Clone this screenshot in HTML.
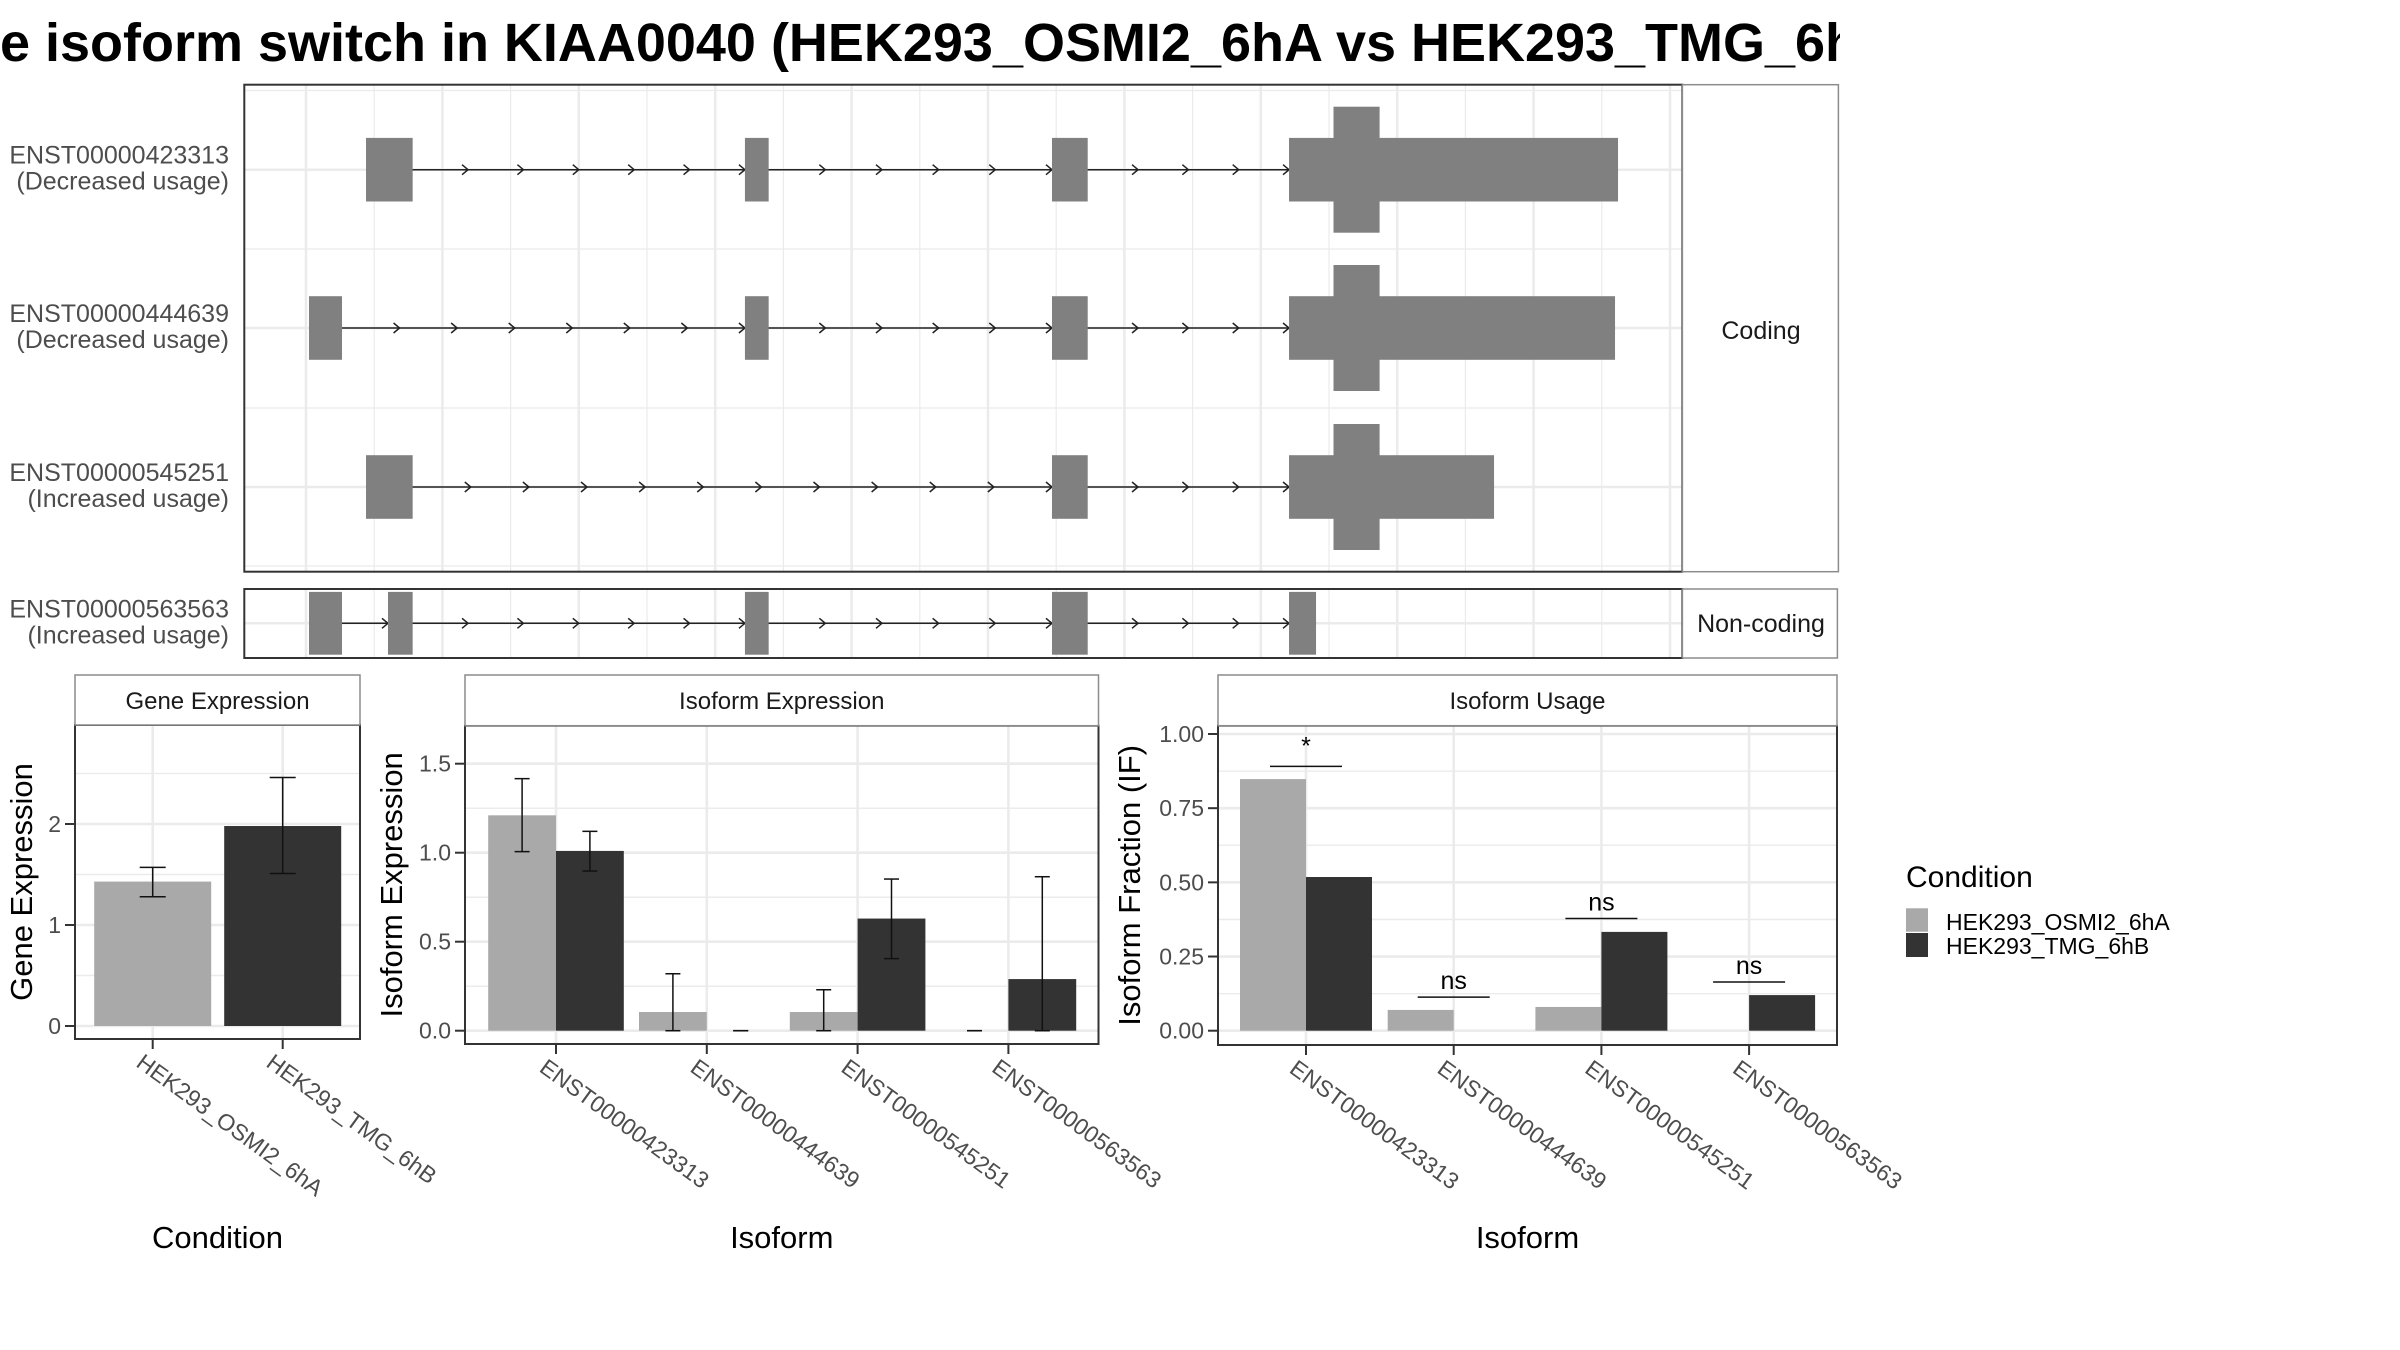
<!DOCTYPE html>
<html><head><meta charset="utf-8"><style>
html,body{margin:0;padding:0;background:#fff;}
svg{display:block;font-family:"Liberation Sans",Arial,sans-serif;}
</style></head><body>
<svg id="chart" xmlns="http://www.w3.org/2000/svg" width="2400" height="1350" viewBox="0 0 2400 1350">
<defs><clipPath id="titleClip"><rect x="0" y="0" width="1840" height="80"/></clipPath></defs>
<rect x="0" y="0" width="2400" height="1350" fill="#fff"/>
<text x="0" y="61" font-size="54" font-weight="bold" clip-path="url(#titleClip)" textLength="1858" lengthAdjust="spacingAndGlyphs">e isoform switch in KIAA0040 (HEK293_OSMI2_6hA vs HEK293_TMG_6h</text>
<g id="g"></g>
</svg>
<script>
// ---- gene structure data (kb units) ----
const txNames = ["ENST00000423313","ENST00000444639","ENST00000545251","ENST00000563563"];
const txUsage = ["(Decreased usage)","(Decreased usage)","(Increased usage)","(Increased usage)"];
const txExons = [
  [[0.44,0.782],[3.218,3.392],[5.469,5.731],[7.207,9.619]],
  [[0.022,0.264],[3.218,3.392],[5.469,5.731],[7.207,9.597]],
  [[0.44,0.782],[5.469,5.731],[7.207,8.710]],
  [[0.022,0.264],[0.601,0.782],[3.218,3.392],[5.469,5.731],[7.207,7.405]]
];
const txCDS = [[7.533,7.871],[7.533,7.871],[7.533,7.871],null];
// ---- bar chart data ----
const conditions = ["HEK293_OSMI2_6hA","HEK293_TMG_6hB"];
const geneExp = [1.43,1.98];
const geneLo = [1.28,1.51];
const geneHi = [1.57,2.46];
const geneTicks = ["0","1","2"];
const isoforms = ["ENST00000423313","ENST00000444639","ENST00000545251","ENST00000563563"];
const isoExpA = [1.21,0.105,0.105,0];
const isoExpB = [1.01,0,0.63,0.29];
const isoLoA = [1.006,0,0,0];
const isoHiA = [1.416,0.32,0.23,0];
const isoLoB = [0.897,0,0.405,0];
const isoHiB = [1.12,0,0.852,0.865];
const isoTicks = ["0.0","0.5","1.0","1.5"];
const ifA = [0.848,0.07,0.08,0];
const ifB = [0.518,0,0.333,0.12];
const sigLabel = ["*","ns","ns","ns"];
const sigY = [0.891,0.113,0.378,0.164];
const ifTicks = ["0.00","0.25","0.50","0.75","1.00"];

const NS="http://www.w3.org/2000/svg";
const root=document.getElementById('g');
function mk(tag,attrs,name,parent){
  const el=document.createElementNS(NS,tag);
  for(const k in attrs) el.setAttribute(k,attrs[k]);
  
  
  (parent||root).appendChild(el);
  return el;
}
function txt(x,y,s,attrs,name){const t=mk('text',Object.assign({x:x,y:y},attrs||{}),name);t.textContent=s;return t;}
const LIGHT="#a9a9a9",DARK="#333333",GRID="#ebebeb",AX="#4d4d4d";

// ---- gene structure panel ----
const gx = g => 306 + g*136.4;
const rowY = [169.7,328,487,623.3];
function panelGrid(top,bottom,name){
  for(let k=-1;k<=11;k++){
    const x=gx(k); if(x<245||x>1681) continue;
    mk('line',{x1:x,x2:x,y1:top,y2:bottom,stroke:GRID,'stroke-width':2.5},name+'-vgrid');
    if(k<11){const xm=gx(k+0.5); if(xm<1681) mk('line',{x1:xm,x2:xm,y1:top,y2:bottom,stroke:GRID,'stroke-width':1.2},name+'-vgrid-minor');}
  }
}
mk('rect',{x:244.3,y:84.7,width:1438,height:487,fill:'#fff'},'coding-panel-bg');
panelGrid(84.7,571.7,'coding');
[90.5,249,408,566].forEach(y=>mk('line',{x1:244.3,x2:1682.4,y1:y,y2:y,stroke:GRID,'stroke-width':1.2},'coding-hgrid-minor'));
mk('rect',{x:244.3,y:589,width:1438,height:69,fill:'#fff'},'noncoding-panel-bg');
panelGrid(589,658,'noncoding');
for(let i=0;i<4;i++){
  mk('line',{x1:244.3,x2:1682.4,y1:rowY[i],y2:rowY[i],stroke:GRID,'stroke-width':2.5},'row-gridline');
}
for(let i=0;i<4;i++){
  const ex=txExons[i], y=rowY[i];
  const first=ex[0][1], last=ex[ex.length-1][0];
  mk('line',{x1:gx(ex[0][0]),x2:gx(ex[ex.length-1][1]),y1:y,y2:y,stroke:'#222','stroke-width':1.5},'intron-line-'+txNames[i]);
  for(let j=0;j<ex.length-1;j++){
    const a=gx(ex[j][1]),b=gx(ex[j+1][0]);
    const n=Math.max(1,Math.round((b-a)/56));
    const step=(b-a)/n;
    for(let m=1;m<=n;m++){
      const cx=a+step*m;
      mk('path',{d:`M${cx-6},${y-5} L${cx},${y} L${cx-6},${y+5}`,fill:'none',stroke:'#222','stroke-width':1.5},'intron-arrow');
    }
  }
  const h = i<3?31.8:31.4;
  ex.forEach((e,j)=>{
    mk('rect',{x:gx(e[0]),y:y-h,width:gx(e[1])-gx(e[0]),height:2*h,fill:'#808080'},'exon-'+txNames[i]+'-'+(j+1));
  });
  if(txCDS[i]) mk('rect',{x:gx(txCDS[i][0]),y:y-63,width:gx(txCDS[i][1])-gx(txCDS[i][0]),height:126,fill:'#808080'},'cds-region-'+txNames[i]);
  txt(229,y-6,txNames[i],{'font-size':25,fill:AX,'text-anchor':'end'},'transcript-label');
  txt(229,y+20,txUsage[i],{'font-size':25,fill:AX,'text-anchor':'end'},'usage-label');
}
mk('rect',{x:244.3,y:84.7,width:1438,height:487,fill:'none',stroke:'#333','stroke-width':2},'coding-panel-border');
mk('rect',{x:244.3,y:589,width:1438,height:69,fill:'none',stroke:'#333','stroke-width':2},'noncoding-panel-border');
mk('rect',{x:1682.4,y:84.7,width:156,height:487,fill:'#fff',stroke:'#8c8c8c','stroke-width':1.5},'coding-strip');
txt(1761,339,'Coding',{'font-size':25,'text-anchor':'middle',fill:'#1a1a1a'},'coding-strip-label');
mk('rect',{x:1682.4,y:589,width:155,height:69,fill:'#fff',stroke:'#8c8c8c','stroke-width':1.5},'noncoding-strip');
txt(1761,632,'Non-coding',{'font-size':25,'text-anchor':'middle',fill:'#1a1a1a'},'noncoding-strip-label');

// ---- generic bar panel ----
function barPanel(o){
  const {x0,x1,stripTop,stripBot,bottom,y0,perUnit,name}=o;
  const y=v=>y0-v*perUnit;
  mk('rect',{x:x0,y:stripBot,width:x1-x0,height:bottom-stripBot,fill:'#fff'},name+'-bg');
  const vmax=(y0-stripBot)/perUnit;
  for(let v=o.minor/2*0+o.minor/1; v<vmax; v+=o.major){
    const mv=v-o.major/2; if(mv>0) mk('line',{x1:x0,x2:x1,y1:y(mv),y2:y(mv),stroke:GRID,'stroke-width':1.3},name+'-hgrid-minor');
  }
  for(let v=o.major/2; v<vmax; v+=o.major) mk('line',{x1:x0,x2:x1,y1:y(v),y2:y(v),stroke:GRID,'stroke-width':1.3},name+'-hgrid-minor');
  o.ticks.forEach((t,i)=>{
    const v=i*o.major;
    mk('line',{x1:x0,x2:x1,y1:y(v),y2:y(v),stroke:GRID,'stroke-width':2.6},name+'-hgrid');
    mk('line',{x1:x0-10,x2:x0,y1:y(v),y2:y(v),stroke:'#333','stroke-width':2},name+'-ytick');
    txt(x0-14,y(v)+8,t,{'font-size':23,fill:AX,'text-anchor':'end'},name+'-ytick-label');
  });
  const cx=i=>o.c0+i*o.step;
  o.cats.forEach((c,i)=>{
    mk('line',{x1:cx(i),x2:cx(i),y1:stripBot,y2:bottom,stroke:GRID,'stroke-width':2.6},name+'-vgrid');
  });
  o.draw(y,cx);
  o.cats.forEach((c,i)=>{
    mk('line',{x1:cx(i),x2:cx(i),y1:bottom,y2:bottom+10,stroke:'#333','stroke-width':2},name+'-xtick');
    const t=txt(cx(i)-8,bottom+13,c,{'font-size':23,fill:AX,'dominant-baseline':'hanging',transform:`rotate(36 ${cx(i)-8} ${bottom+13})`},name+'-xtick-label');
  });
  mk('rect',{x:x0,y:stripBot,width:x1-x0,height:bottom-stripBot,fill:'none',stroke:'#333','stroke-width':2},name+'-border');
  mk('rect',{x:x0,y:stripTop,width:x1-x0,height:stripBot-stripTop,fill:'#fff',stroke:'#8c8c8c','stroke-width':1.5},name+'-strip');
  txt((x0+x1)/2,stripTop+34,o.title,{'font-size':24,'text-anchor':'middle',fill:'#1a1a1a'},name+'-strip-label');
  txt((x0+x1)/2,1248,o.xtitle,{'font-size':31,'text-anchor':'middle',fill:'#000'},name+'-x-axis-title');
  const my=(stripBot+bottom)/2;
  txt(o.ytx,my,o.ytitle,{'font-size':31,'text-anchor':'middle',fill:'#000',transform:`rotate(-90 ${o.ytx} ${my})`},name+'-y-axis-title');
}
function errbar(x,lo,hi,cap,name){
  mk('line',{x1:x,x2:x,y1:lo,y2:hi,stroke:'#111','stroke-width':1.5},name);
  mk('line',{x1:x-cap,x2:x+cap,y1:lo,y2:lo,stroke:'#111','stroke-width':1.5},name+'-cap-low');
  mk('line',{x1:x-cap,x2:x+cap,y1:hi,y2:hi,stroke:'#111','stroke-width':1.5},name+'-cap-high');
}

barPanel({name:'gene-expression',x0:75,x1:360,stripTop:675,stripBot:725,bottom:1039,y0:1026,perUnit:101,major:1,minor:1,
  ticks:geneTicks,cats:conditions,c0:152.7,step:130,title:'Gene Expression',xtitle:'Condition',ytitle:'Gene Expression',ytx:32,
  draw:(y,cx)=>{
    geneExp.forEach((v,i)=>{
      mk('rect',{x:cx(i)-58.5,y:y(v),width:117,height:y(0)-y(v),fill:i?DARK:LIGHT},'gene-bar-'+conditions[i]);
      errbar(cx(i),y(geneLo[i]),y(geneHi[i]),13,'gene-errorbar');
    });
  }});

barPanel({name:'isoform-expression',x0:465,x1:1098.5,stripTop:675,stripBot:725.7,bottom:1044,y0:1030.7,perUnit:178,major:0.5,minor:0.5,
  ticks:isoTicks,cats:isoforms,c0:556,step:150.8,title:'Isoform Expression',xtitle:'Isoform',ytitle:'Isoform Expression',ytx:402,
  draw:(y,cx)=>{
    isoforms.forEach((c,i)=>{
      const w=67.8;
      mk('rect',{x:cx(i)-w,y:y(isoExpA[i]),width:w,height:y(0)-y(isoExpA[i]),fill:LIGHT},'iso-exp-bar-a-'+c);
      mk('rect',{x:cx(i),y:y(isoExpB[i]),width:w,height:y(0)-y(isoExpB[i]),fill:DARK},'iso-exp-bar-b-'+c);
      errbar(cx(i)-w/2,y(isoLoA[i]),y(isoHiA[i]),7.5,'iso-exp-errorbar-a');
      errbar(cx(i)+w/2,y(isoLoB[i]),y(isoHiB[i]),7.5,'iso-exp-errorbar-b');
    });
  }});

barPanel({name:'isoform-usage',x0:1218,x1:1837,stripTop:675,stripBot:725.7,bottom:1045,y0:1030.7,perUnit:296.7,major:0.25,minor:0.25,
  ticks:ifTicks,cats:isoforms,c0:1306,step:147.7,title:'Isoform Usage',xtitle:'Isoform',ytitle:'Isoform Fraction (IF)',ytx:1140,
  draw:(y,cx)=>{
    isoforms.forEach((c,i)=>{
      const w=66;
      mk('rect',{x:cx(i)-w,y:y(ifA[i]),width:w,height:y(0)-y(ifA[i]),fill:LIGHT},'iso-usage-bar-a-'+c);
      mk('rect',{x:cx(i),y:y(ifB[i]),width:w,height:y(0)-y(ifB[i]),fill:DARK},'iso-usage-bar-b-'+c);
      mk('line',{x1:cx(i)-36,x2:cx(i)+36,y1:y(sigY[i]),y2:y(sigY[i]),stroke:'#111','stroke-width':1.5},'significance-line');
      txt(cx(i),y(sigY[i])-(sigLabel[i]==='*'?12:8),sigLabel[i],{'font-size':25,'text-anchor':'middle',fill:'#000'},'significance-label');
    });
  }});

// ---- legend ----
txt(1906,887,'Condition',{'font-size':30,fill:'#000'},'legend-title');
mk('rect',{x:1906,y:908.3,width:22,height:23.4,fill:LIGHT},'legend-key-osmi2');
mk('rect',{x:1906,y:933,width:22,height:24,fill:DARK},'legend-key-tmg');
txt(1946,930,conditions[0],{'font-size':23,fill:'#000'},'legend-label-osmi2');
txt(1946,954,conditions[1],{'font-size':23,fill:'#000'},'legend-label-tmg');
</script>
</body></html>
